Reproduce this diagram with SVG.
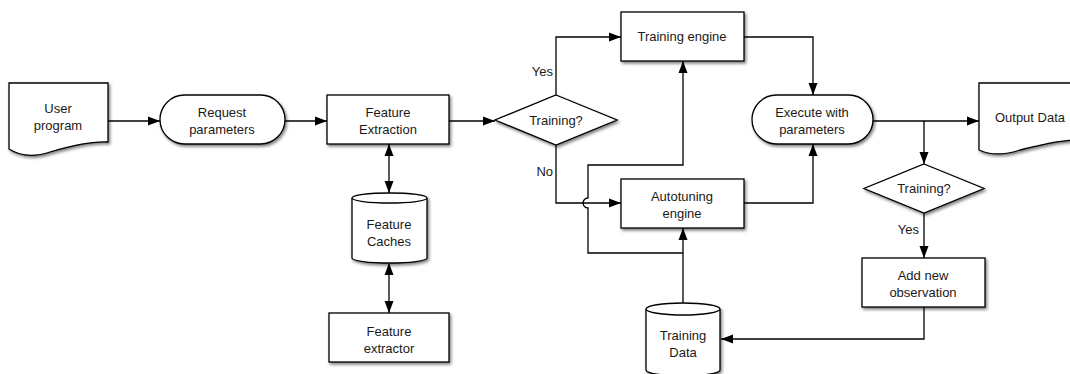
<svg xmlns="http://www.w3.org/2000/svg" width="1070" height="374" viewBox="0 0 1070 374">
  <defs>
    <filter id="shadow" x="-10%" y="-10%" width="130%" height="140%">
      <feDropShadow dx="1.5" dy="2" stdDeviation="1.4" flood-color="#000" flood-opacity="0.5"/>
    </filter>
    <marker id="arrow" viewBox="0 0 12 10" refX="12" refY="5" markerWidth="12" markerHeight="10" markerUnits="userSpaceOnUse" orient="auto-start-reverse">
      <path d="M0,0.5 L12,5 L0,9.5 Z" fill="#000"/>
    </marker>
    <style>
      .shape { fill: #fff; stroke: #000; stroke-width: 1.3; filter: url(#shadow); }
      .plain { fill: none; stroke: #000; stroke-width: 1.3; }
      .edge { fill: none; stroke: #000; stroke-width: 1.3; }
      .arr { marker-end: url(#arrow); }
      .both { marker-start: url(#arrow); marker-end: url(#arrow); }
      text { font-family: "Liberation Sans", Arial, sans-serif; font-size: 13px; fill: #1a1a1a; text-anchor: middle; }
      .lbl { text-anchor: end; }
    </style>
  </defs>

  <!-- connectors -->
  <g id="connectors">
    <path class="edge arr" d="M108,121 H160"/>
    <path class="edge arr" d="M285,121 H327"/>
    <path class="edge arr" d="M449,121 H495"/>
    <path class="edge both" d="M389,144 V193"/>
    <path class="edge both" d="M389,263 V313"/>
    <path class="edge arr" d="M556,95 V37 H621"/>
    <path class="edge arr" d="M556,145 V203 H621"/>
    <path class="edge arr" d="M683,253 H588 V208 A5,5 0 0 1 588,198 V165 H683 V61"/>
    <path class="edge arr" d="M683,303 V228"/>
    <path class="edge arr" d="M744,37 H813 V95"/>
    <path class="edge arr" d="M744,203 H813 V144"/>
    <path class="edge arr" d="M873,121 H979"/>
    <path class="edge arr" d="M924,121 V164"/>
    <path class="edge arr" d="M924,213 V258"/>
    <path class="edge arr" d="M924,307 V339 H721"/>
    <text class="lbl" x="553" y="76">Yes</text>
    <text class="lbl" x="553" y="176">No</text>
    <text class="lbl" x="919" y="234">Yes</text>
  </g>

  <g id="user-program">
    <path class="shape" d="M9,83 H108 V142 C90,141 70,146 50,152 C35,157 20,156 9,149 Z"/>
    <text x="58" y="113">User</text>
    <text x="58" y="130">program</text>
  </g>

  <g id="request-parameters">
    <rect class="shape" x="160" y="95" width="125" height="49" rx="24.5" ry="24.5"/>
    <text x="222" y="117">Request</text>
    <text x="222" y="134">parameters</text>
  </g>

  <g id="feature-extraction">
    <rect class="shape" x="327" y="95" width="122" height="49"/>
    <text x="388" y="117">Feature</text>
    <text x="388" y="134">Extraction</text>
  </g>

  <g id="feature-caches">
    <path class="shape" d="M352,198 A37.5,5 0 0 1 427,198 V258 A37.5,5 0 0 1 352,258 Z"/>
    <path class="plain" d="M352,198 A37.5,5 0 0 0 427,198"/>
    <text x="389" y="229">Feature</text>
    <text x="389" y="246">Caches</text>
  </g>

  <g id="feature-extractor">
    <rect class="shape" x="329" y="313" width="120" height="49"/>
    <text x="389" y="336">Feature</text>
    <text x="389" y="353">extractor</text>
  </g>

  <g id="training-decision">
    <path class="shape" d="M556,95 L617,120 L556,145 L495,120 Z"/>
    <text x="556" y="125">Training?</text>
  </g>

  <g id="training-engine">
    <rect class="shape" x="621" y="12" width="123" height="49"/>
    <text x="682" y="41">Training engine</text>
  </g>

  <g id="autotuning-engine">
    <rect class="shape" x="621" y="179" width="123" height="49"/>
    <text x="682" y="201">Autotuning</text>
    <text x="682" y="218">engine</text>
  </g>

  <g id="training-data">
    <path class="shape" d="M646,309 A37,6 0 0 1 720,309 V370 A37,6 0 0 1 646,370 Z"/>
    <path class="plain" d="M646,309 A37,6 0 0 0 720,309"/>
    <text x="683" y="340">Training</text>
    <text x="683" y="357">Data</text>
  </g>

  <g id="execute-with-parameters">
    <rect class="shape" x="752" y="95" width="121" height="49" rx="24.5" ry="24.5"/>
    <text x="812" y="117">Execute with</text>
    <text x="812" y="134">parameters</text>
  </g>

  <g id="output-data">
    <path class="shape" d="M979,83 H1078 V140 C1060,140 1040,145 1020,150 C1005,155 990,155 979,150 Z"/>
    <text x="1030" y="122">Output Data</text>
  </g>

  <g id="observation-decision">
    <path class="shape" d="M924,164 L984,188.5 L924,213 L864,188.5 Z"/>
    <text x="924" y="193">Training?</text>
  </g>

  <g id="add-new-observation">
    <rect class="shape" x="862" y="258" width="123" height="49"/>
    <text x="923" y="280">Add new</text>
    <text x="923" y="297">observation</text>
  </g>
</svg>
